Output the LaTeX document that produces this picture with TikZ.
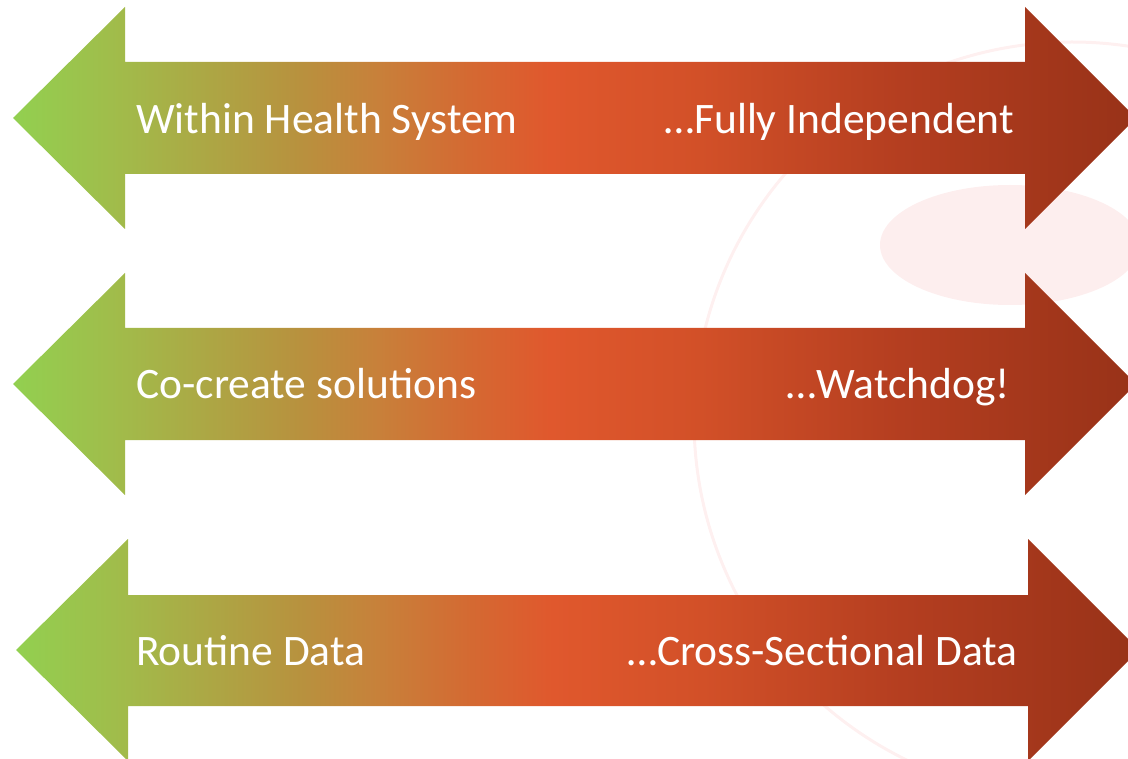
\documentclass[tikz,border=0pt]{standalone}
\usepackage{fontspec}
\setmainfont{Carlito}
\usepackage{xcolor}
\usetikzlibrary{positioning}

\definecolor{wmpink}{RGB}{253,238,238}
\definecolor{wmring}{RGB}{254,240,240}

\begin{document}
\begin{tikzpicture}[x=1pt,y=-1pt]
  \definecolor{cA}{RGB}{146,208,80}
  \definecolor{cB}{RGB}{162,186,74}
  \definecolor{cC}{RGB}{184,145,62}
  \definecolor{cD}{RGB}{200,128,58}
  \definecolor{cE}{RGB}{212,105,50}
  \definecolor{cF}{RGB}{224,88,45}
  \definecolor{cG}{RGB}{210,80,40}
  \definecolor{cH}{RGB}{180,62,32}
  \definecolor{cI}{RGB}{152,50,24}
  \pgfdeclarehorizontalshading{spanshade}{100bp}{
    color(0bp)=(cA); color(25bp)=(cA); color(30bp)=(cB);
    color(37.8bp)=(cC); color(41.3bp)=(cD); color(45.3bp)=(cE);
    color(48.9bp)=(cF); color(55.6bp)=(cG); color(64.5bp)=(cH);
    color(75bp)=(cI); color(100bp)=(cI)}
  \tikzset{ span/.style={shading=spanshade,draw=none},
    lbl/.style={white,inner sep=0pt,font=\fontsize{43.5}{52}\selectfont},
  }
  \clip (0,0) rectangle (1128,759);
  \useasboundingbox (0,0) rectangle (1128,759);

  % faint seal in the background
  \fill[wmpink] (1010,245) ellipse [x radius=130, y radius=60];
  \draw[wmring,line width=3] (1072,420) circle [radius=378];

  % the three double arrows
  \shade[span] (13,118) -- (125,7) -- (125,62) -- (1025,62) -- (1025,7)
    -- (1136,118) -- (1025,229) -- (1025,174) -- (125,174) -- (125,229) -- cycle;
  \shade[span] (13,384) -- (125,273) -- (125,328) -- (1025,328) -- (1025,273)
    -- (1136,384) -- (1025,495) -- (1025,440) -- (125,440) -- (125,495) -- cycle;
  \shade[span] (16,650) -- (128,539) -- (128,595) -- (1028,595) -- (1028,539)
    -- (1139,650) -- (1028,761) -- (1028,706) -- (128,706) -- (128,761) -- cycle;

  % the labels at both ends
  \node[lbl,anchor=base west] (L1) at (136,134) {Within Health System};
  \node[lbl,anchor=base east] (R1) at (1014,134) {…Fully Independent};
  \node[lbl,anchor=base west] (L2) at (136,399) {Co-create solutions};
  \node[lbl,anchor=base east] (R2) at (1010,399) {…Watchdog!};
  \node[lbl,anchor=base west] (L3) at (136,665) {Routine Data};
  \node[lbl,anchor=base east] (R3) at (1018,665) {…Cross-Sectional Data};
\end{tikzpicture}
\end{document}
